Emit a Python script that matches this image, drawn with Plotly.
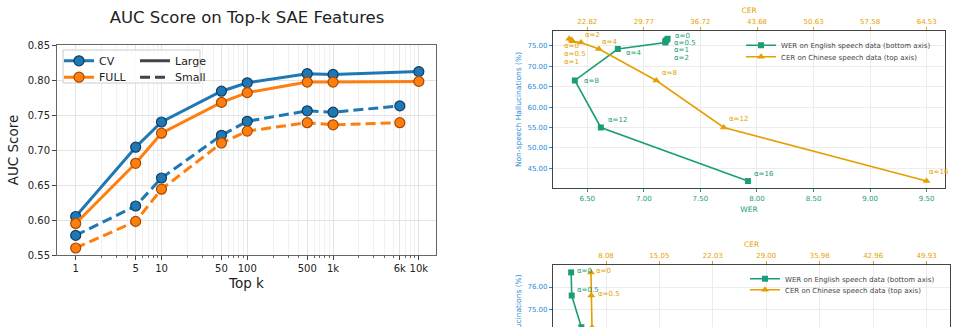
import plotly.graph_objects as go

# ---------------- Left chart data ----------------
topk_large = [1, 5, 10, 50, 100, 500, 1000, 10000]
topk_small = [1, 5, 10, 50, 100, 500, 1000, 6000]
cv_large = [0.605, 0.704, 0.740, 0.784, 0.796, 0.809, 0.808, 0.812]
full_large = [0.595, 0.681, 0.724, 0.768, 0.782, 0.797, 0.797, 0.798]
cv_small = [0.578, 0.620, 0.660, 0.721, 0.741, 0.756, 0.754, 0.763]
full_small = [0.560, 0.598, 0.644, 0.710, 0.727, 0.739, 0.736, 0.739]
k_tickvals = [1, 5, 10, 50, 100, 500, 1000, 6000, 10000]
k_ticktext = ["1", "5", "10", "50", "100", "500", "1k", "6k", "10k"]
k_minor = [m * d for d in (1, 10, 100, 1000) for m in range(2, 10) if m * d not in k_tickvals]
auc_ticks = [0.55, 0.60, 0.65, 0.70, 0.75, 0.80, 0.85]

# ---------------- Top-right chart data ----------------
alpha_labels = ["α=0", "α=0.5", "α=1", "α=2", "α=4", "α=8", "α=12", "α=16"]
wer_en = [7.21, 7.20, 7.19, 7.19, 6.77, 6.39, 6.62, 7.92]
cer_zh = [20.6, 20.9, 21.0, 22.05, 24.25, 31.3, 39.6, 64.5]
halluc = [76.7, 76.4, 76.1, 75.8, 74.2, 66.5, 55.0, 41.9]
wer_ticks = [6.5, 7.0, 7.5, 8.0, 8.5, 9.0, 9.5]
cer_ticks = [22.82, 29.77, 36.72, 43.68, 50.63, 57.58, 64.53]
hal_ticks = [45, 50, 55, 60, 65, 70, 75]

# ---------------- Bottom-right chart data (partly visible) ----------------
alpha_labels_b = ["α=0", "α=0.5", "α=1"]
wer_en_b = [6.36, 6.365, 6.45]
cer_zh_b = [6.12, 6.16, 6.25]
halluc_b = [76.65, 75.62, 74.21]
cer_ticks_b = [8.08, 15.05, 22.03, 29.00, 35.98, 42.96, 49.93]
hal_ticks_b = [75, 76]

W, H = 957, 327
FONT = "DejaVu Sans"
BLUE, ORANGE = "#1f77b4", "#ff7f0e"
GREEN, GOLD = "#1b9e77", "#e69f00"
YBLUE = "#2b8cd6"


def px(x):
    return x / W


def py(y):
    return 1 - y / H


fig = go.Figure()

# Left chart traces (order chosen for legend rows)
fig.add_trace(go.Scatter(x=topk_large, y=cv_large, mode="lines+markers", name="CV",
                         line=dict(color=BLUE, width=3),
                         marker=dict(size=10, color=BLUE, line=dict(color="#0f3d63", width=1.2)),
                         xaxis="x", yaxis="y", legend="legend"))
fig.add_trace(go.Scatter(x=[None], y=[None], mode="lines", name="Large",
                         line=dict(color="#444444", width=3), xaxis="x", yaxis="y", legend="legend"))
fig.add_trace(go.Scatter(x=topk_large, y=full_large, mode="lines+markers", name="FULL",
                         line=dict(color=ORANGE, width=3),
                         marker=dict(size=10, color=ORANGE, line=dict(color="#a84a00", width=1.2)),
                         xaxis="x", yaxis="y", legend="legend2"))
fig.add_trace(go.Scatter(x=[None], y=[None], mode="lines", name="Small",
                         line=dict(color="#444444", width=3, dash="10px,5px"),
                         xaxis="x", yaxis="y", legend="legend2"))
fig.add_trace(go.Scatter(x=topk_small, y=cv_small, mode="lines+markers", showlegend=False,
                         line=dict(color=BLUE, width=3, dash="10px,5px"),
                         marker=dict(size=10, color=BLUE, line=dict(color="#0f3d63", width=1.2)),
                         xaxis="x", yaxis="y"))
fig.add_trace(go.Scatter(x=topk_small, y=full_small, mode="lines+markers", showlegend=False,
                         line=dict(color=ORANGE, width=3, dash="10px,5px"),
                         marker=dict(size=10, color=ORANGE, line=dict(color="#a84a00", width=1.2)),
                         xaxis="x", yaxis="y"))

# Top-right chart traces
fig.add_trace(go.Scatter(x=wer_en, y=halluc, mode="lines+markers",
                         name="WER on English speech data (bottom axis)",
                         line=dict(color=GREEN, width=1.6),
                         marker=dict(symbol="square", size=6, color=GREEN),
                         xaxis="x2", yaxis="y2", legend="legend3"))
fig.add_trace(go.Scatter(x=cer_zh, y=halluc, mode="lines+markers",
                         name="CER on Chinese speech data (top axis)",
                         line=dict(color=GOLD, width=1.6),
                         marker=dict(symbol="triangle-up", size=7, color=GOLD),
                         xaxis="x3", yaxis="y2", legend="legend4"))

# Bottom-right chart traces
fig.add_trace(go.Scatter(x=wer_en_b, y=halluc_b, mode="lines+markers",
                         name="WER on English speech data (bottom axis)",
                         line=dict(color=GREEN, width=1.6),
                         marker=dict(symbol="square", size=6, color=GREEN),
                         xaxis="x4", yaxis="y3", legend="legend5"))
fig.add_trace(go.Scatter(x=cer_zh_b, y=halluc_b, mode="lines+markers",
                         name="CER on Chinese speech data (top axis)",
                         line=dict(color=GOLD, width=1.6),
                         marker=dict(symbol="triangle-up", size=7, color=GOLD),
                         xaxis="x5", yaxis="y3", legend="legend6"))

# alpha labels (offsets in px)
green_off = [(5, 2.7), (5.5, -3.1), (6.7, -8.8), (6.7, -15.6), (5.7, -4.3), (7, -0.7), (5.3, 7), (4.3, 6.7)]
gold_off = [(-7.5, -7.3), (-9.9, -14.1), (-10.8, -20.5), (2.3, 7.5), (1, 7.3), (3.3, 7.3), (2.7, 8), (0.4, 9)]
annotations = []
for lab, xv, yv, (dx, dy) in zip(alpha_labels, wer_en, halluc, green_off):
    annotations.append(dict(x=xv, y=yv, xref="x2", yref="y2", text=lab, showarrow=False,
                            xanchor="left", yanchor="middle", xshift=dx, yshift=dy,
                            font=dict(family=FONT, size=7, color=GREEN)))
for lab, xv, yv, (dx, dy) in zip(alpha_labels, cer_zh, halluc, gold_off):
    annotations.append(dict(x=xv, y=yv, xref="x3", yref="y2", text=lab, showarrow=False,
                            xanchor="left", yanchor="middle", xshift=dx, yshift=dy,
                            font=dict(family=FONT, size=7, color=GOLD)))
green_off_b = [(4, 1.5), (3.5, 6), (4, 4.6)]
gold_off_b = [(3, 1.5), (5, 1.4), (8, 0)]
for lab, xv, yv, (dx, dy) in zip(alpha_labels_b, wer_en_b, halluc_b, green_off_b):
    annotations.append(dict(x=xv, y=yv, xref="x4", yref="y3", text=lab, showarrow=False,
                            xanchor="left", yanchor="middle", xshift=dx, yshift=dy,
                            font=dict(family=FONT, size=7, color=GREEN)))
for lab, xv, yv, (dx, dy) in zip(alpha_labels_b, cer_zh_b, halluc_b, gold_off_b):
    annotations.append(dict(x=xv, y=yv, xref="x5", yref="y3", text=lab, showarrow=False,
                            xanchor="left", yanchor="middle", xshift=dx, yshift=dy,
                            font=dict(family=FONT, size=7, color=GOLD)))
# y title of the bottom chart (continues below the visible area, as in the source)
annotations.append(dict(x=px(518), y=py(273), xref="paper", yref="paper",
                        text="Non-speech Hallucinations (%)", textangle=-90, showarrow=False,
                        xanchor="center", yanchor="top",
                        font=dict(family=FONT, size=7.5, color=YBLUE)))

small_axis = dict(showgrid=True, gridcolor="#ececec", gridwidth=0.8, zeroline=False,
                  ticks="outside", ticklen=3, showline=True, linecolor="#444444", linewidth=1.2,
                  automargin=False)

fig.update_layout(
    width=W, height=H, autosize=False,
    margin=dict(l=0, r=0, t=0, b=0, autoexpand=False),
    paper_bgcolor="white", plot_bgcolor="white",
    font=dict(family=FONT, color="#222222"),
    title=dict(text="AUC Score on Top-k SAE Features", x=px(247), y=py(17),
               xanchor="center", yanchor="middle", font=dict(size=16.5, color="#222222")),
    xaxis=dict(type="log", domain=[px(57), px(436)], anchor="y", range=[-0.218, 4.2],
               tickmode="array", tickvals=k_tickvals, ticktext=k_ticktext,
               ticks="outside", ticklen=4, tickcolor="#444", tickfont=dict(size=10),
               showgrid=True, gridcolor="#e3e3e3", gridwidth=1,
               minor=dict(tickmode="array", tickvals=k_minor, ticks="outside", ticklen=2,
                          tickcolor="#666", showgrid=True, gridcolor="#f1f1f1", gridwidth=0.8),
               showline=True, mirror=True, linecolor="#666666", linewidth=1, automargin=False,
               title=dict(text="Top k", font=dict(size=13.5), standoff=5), zeroline=False),
    yaxis=dict(domain=[py(255), py(45)], anchor="x", range=[0.55, 0.85],
               tickmode="array", tickvals=auc_ticks, tickformat=".2f",
               ticks="outside", ticklen=4, tickcolor="#444", tickfont=dict(size=10),
               showgrid=True, gridcolor="#e3e3e3", gridwidth=1, automargin=False,
               showline=True, mirror=True, linecolor="#666666", linewidth=1,
               title=dict(text="AUC Score", font=dict(size=13.5), standoff=6), zeroline=False),
    xaxis2=dict(domain=[px(553), px(945)], anchor="y2", range=[6.197, 9.662],
                tickmode="array", tickvals=wer_ticks, tickformat=".2f",
                tickfont=dict(size=7, color=GREEN), tickcolor=GREEN,
                title=dict(text="WER", font=dict(size=7.5, color=GREEN), standoff=5),
                **small_axis),
    xaxis3=dict(overlaying="x2", side="top", anchor="y2", range=[18.61, 66.78],
                tickmode="array", tickvals=cer_ticks, ticktext=[f"{v:.2f}" for v in cer_ticks],
                tickfont=dict(size=7, color=GOLD), tickcolor=GOLD,
                title=dict(text="CER", font=dict(size=7.5, color=GOLD), standoff=3),
                **{**small_axis, "showgrid": False}),
    yaxis2=dict(domain=[py(188), py(31)], anchor="x2", range=[40.2, 78.6],
                tickmode="array", tickvals=hal_ticks, tickformat=".2f",
                tickfont=dict(size=7, color=YBLUE), tickcolor=YBLUE, mirror=True,
                title=dict(text="Non-speech Hallucinations (%)", font=dict(size=7.5, color=YBLUE), standoff=4),
                **small_axis),
    xaxis4=dict(domain=[px(553), px(950)], anchor="y3", range=[6.2, 9.7], automargin=False,
                showticklabels=False, ticks="", showline=False, showgrid=False, zeroline=False),
    xaxis5=dict(overlaying="x4", side="top", anchor="y3", range=[1.16, 52.99],
                tickmode="array", tickvals=cer_ticks_b, ticktext=[f"{v:.2f}" for v in cer_ticks_b],
                tickfont=dict(size=7, color=GOLD), tickcolor=GOLD,
                title=dict(text="CER", font=dict(size=7.5, color=GOLD), standoff=3),
                **small_axis),
    yaxis3=dict(domain=[0, py(265)], anchor="x4", range=[74.22, 76.98],
                tickmode="array", tickvals=hal_ticks_b, tickformat=".2f",
                tickfont=dict(size=7, color=YBLUE), tickcolor=YBLUE, mirror=True,
                **small_axis),
    legend=dict(x=px(59), y=py(46.3), xanchor="left", yanchor="top", orientation="h",
                entrywidth=31, bgcolor="rgba(0,0,0,0)", font=dict(size=11, color="#222")),
    legend2=dict(x=px(59), y=py(62.7), xanchor="left", yanchor="top", orientation="h",
                 entrywidth=31, bgcolor="rgba(0,0,0,0)", font=dict(size=11, color="#222")),
    legend3=dict(x=px(741), y=py(30.7), xanchor="left", yanchor="top",
                 bgcolor="rgba(0,0,0,0)", font=dict(size=7, color="#444")),
    legend4=dict(x=px(741), y=py(42.3), xanchor="left", yanchor="top",
                 bgcolor="rgba(0,0,0,0)", font=dict(size=7, color="#444")),
    legend5=dict(x=px(745), y=py(264.3), xanchor="left", yanchor="top",
                 bgcolor="rgba(0,0,0,0)", font=dict(size=7, color="#444")),
    legend6=dict(x=px(745), y=py(275.3), xanchor="left", yanchor="top",
                 bgcolor="rgba(0,0,0,0)", font=dict(size=7, color="#444")),
    annotations=annotations,
    shapes=[dict(type="rect", xref="paper", yref="paper", x0=px(63), x1=px(200), y0=py(83), y1=py(50),
                 line=dict(color="#cccccc", width=1), fillcolor="rgba(255,255,255,0.85)", layer="above")],
)

fig.write_html("out.html")
